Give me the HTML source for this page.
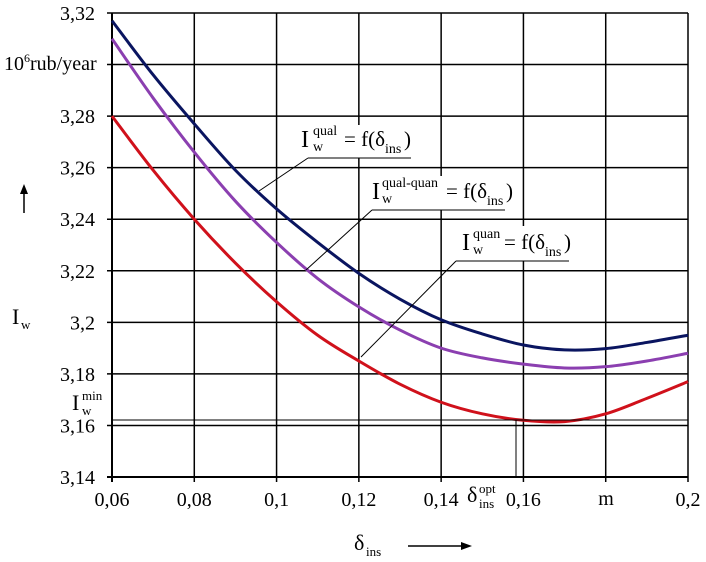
<!DOCTYPE html>
<html><head><meta charset="utf-8"><style>
body{margin:0;background:#fff}
svg{display:block;font-family:"Liberation Serif",serif}
</style></head><body>
<svg id="chart" width="706" height="562" viewBox="0 0 706 562" xmlns="http://www.w3.org/2000/svg">
<g id="grid"></g>
<g id="series"></g>
<g id="ticks"></g>
<g stroke="#000" stroke-width="1">
<line x1="112" y1="420" x2="688" y2="420"/>
<line x1="516" y1="420" x2="516" y2="477"/>
</g>
<g>
<rect x="300" y="125" width="113" height="33" fill="#fff"/>
<line x1="308" y1="158" x2="411" y2="158" stroke="#000"/>
<line x1="308" y1="158" x2="259" y2="191" stroke="#000"/>
<text x="301" y="147" font-size="24">I</text>
<text x="313" y="135" font-size="14">qual</text>
<text x="313" y="151" font-size="14">w</text>
<text x="344" y="146" font-size="21">= f(δ</text>
<text x="385" y="153" font-size="14">ins</text>
<text x="404" y="146" font-size="21">)</text>
</g>
<g>
<rect x="368" y="176" width="138" height="34" fill="#fff"/>
<line x1="372" y1="210" x2="505" y2="210" stroke="#000"/>
<line x1="372" y1="210" x2="306" y2="270" stroke="#000"/>
<text x="372" y="199" font-size="24">I</text>
<text x="382" y="187" font-size="14">qual-quan</text>
<text x="382" y="203" font-size="14">w</text>
<text x="446" y="198" font-size="21">= f(δ</text>
<text x="487" y="205" font-size="14">ins</text>
<text x="506" y="198" font-size="21">)</text>
</g>
<g>
<rect x="460" y="226" width="110" height="35" fill="#fff"/>
<line x1="456" y1="261" x2="569" y2="261" stroke="#000"/>
<line x1="456" y1="261" x2="361" y2="357" stroke="#000"/>
<text x="462" y="250" font-size="24">I</text>
<text x="473" y="238" font-size="14">quan</text>
<text x="473" y="254" font-size="14">w</text>
<text x="504" y="249" font-size="21">= f(δ</text>
<text x="545" y="256" font-size="14">ins</text>
<text x="564" y="249" font-size="21">)</text>
</g>
<text x="4" y="70" font-size="20">10<tspan font-size="12" dy="-8">6</tspan><tspan dy="8">rub/year</tspan></text>
<g><text x="12" y="324" font-size="22">I</text><text x="21" y="329" font-size="13">w</text></g>
<g><line x1="24" y1="213" x2="24" y2="192" stroke="#000" stroke-width="1.5"/><polygon points="24,184 20,194 28,194" fill="#000"/></g>
<g><text x="72" y="410" font-size="22">I</text><text x="82" y="400" font-size="13">min</text><text x="82" y="415" font-size="13">w</text></g>
<g><text x="354" y="550" font-size="22">δ</text><text x="366" y="556" font-size="13">ins</text></g>
<g><line x1="408" y1="546" x2="462" y2="546" stroke="#000" stroke-width="1.5"/><polygon points="472,546 461,542 461,550" fill="#000"/></g>
<g><text x="467" y="502" font-size="22">δ</text><text x="479" y="493" font-size="13">opt</text><text x="479" y="508" font-size="13">ins</text></g>
<text x="606" y="505" font-size="20" text-anchor="middle">m</text>
</svg>
<script>
const xTicks=[0.06,0.08,0.1,0.12,0.14,0.16,0.18,0.2];
const xTickLabels=["0,06","0,08","0,1","0,12","0,14","0,16","","0,2"];
const yTicks=[3.14,3.16,3.18,3.2,3.22,3.24,3.26,3.28,3.3,3.32];
const yTickLabels=["3,14","3,16","3,18","3,2","3,22","3,24","3,26","3,28","","3,32"];
const xs=[0.06,0.07,0.08,0.09,0.1,0.11,0.12,0.13,0.14,0.15,0.16,0.17,0.18,0.19,0.2];
const qual=[3.317,3.296,3.277,3.259,3.244,3.231,3.219,3.209,3.201,3.1955,3.1912,3.1893,3.1898,3.1922,3.195];
const qualQuan=[3.310,3.287,3.266,3.247,3.231,3.217,3.206,3.197,3.190,3.1862,3.1838,3.1823,3.1828,3.185,3.188];
const quan=[3.280,3.259,3.240,3.223,3.208,3.195,3.185,3.176,3.169,3.1645,3.162,3.1615,3.1645,3.1705,3.177];
const X=v=>112+(v-0.06)/0.14*576;
const Y=v=>13+(3.32-v)/0.18*464;
const NS="http://www.w3.org/2000/svg";
function mk(t,a,p){const e=document.createElementNS(NS,t);for(const k in a)e.setAttribute(k,a[k]);p.appendChild(e);return e;}
const grid=document.getElementById('grid'),ticks=document.getElementById('ticks'),ser=document.getElementById('series');
xTicks.forEach((v,i)=>{
 const l=mk('line',{x1:X(v),y1:Y(3.32),x2:X(v),y2:Y(3.14)+5,stroke:'#000','stroke-width':(i==0?2:1.5)},grid);
 
 
 if(xTickLabels[i]){const t=mk('text',{x:X(v),y:Y(3.14)+29,'font-size':20,'text-anchor':'middle'},ticks);t.textContent=xTickLabels[i];
 
 }
});
yTicks.forEach((v,i)=>{
 const l=mk('line',{x1:X(0.06)-5,y1:Y(v),x2:X(0.2),y2:Y(v),stroke:'#000','stroke-width':(i==0?2:1.5)},grid);
 
 
 if(yTickLabels[i]){const t=mk('text',{x:95,y:Y(v)+7,'font-size':20,'text-anchor':'end'},ticks);t.textContent=yTickLabels[i];
 
 }
});
function path(vals){const p=xs.map((x,i)=>[X(x),Y(vals[i])]);let d='M'+p[0][0]+','+p[0][1];
 for(let i=0;i<p.length-1;i++){const p0=p[Math.max(0,i-1)],p1=p[i],p2=p[i+1],p3=p[Math.min(p.length-1,i+2)];
 d+=' C'+(p1[0]+(p2[0]-p0[0])/6)+','+(p1[1]+(p2[1]-p0[1])/6)+' '+(p2[0]-(p3[0]-p1[0])/6)+','+(p2[1]-(p3[1]-p1[1])/6)+' '+p2[0]+','+p2[1];}
 return d;}
[[qual,'#0a1560','qual-curve'],[qualQuan,'#8b3fb0','qual-quan-curve'],[quan,'#d0111b','quan-curve']].forEach(s=>{
 const e=mk('path',{d:path(s[0]),fill:'none',stroke:s[1],'stroke-width':3},ser);
 
 
});
</script>
</body></html>
